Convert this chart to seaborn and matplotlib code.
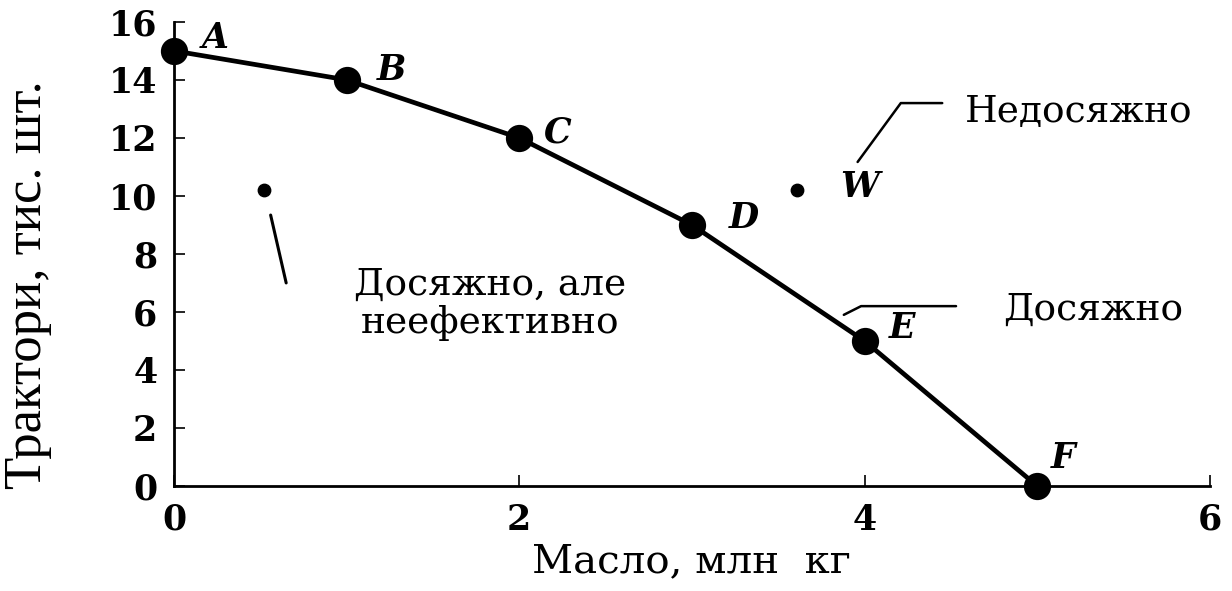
import seaborn as sns
import matplotlib.pyplot as plt
import pandas as pd

# production possibilities: butter vs tractors
butter = [0, 1, 2, 3, 4, 5]
tractors = [15, 14, 12, 9, 5, 0]
point_names = ['A', 'B', 'C', 'D', 'E', 'F']

# inefficient point and unattainable point W
extra_x = [0.52, 3.61]
extra_y = [10.2, 10.2]

x_ticks = [0, 2, 4, 6]
y_ticks = [0, 2, 4, 6, 8, 10, 12, 14, 16]

sns.set_theme(style="ticks")
plt.rcParams['font.family'] = ['DejaVu Serif', 'Liberation Serif']
plt.rcParams['text.color'] = 'black'
plt.rcParams['axes.labelcolor'] = 'black'

df = pd.DataFrame({'x': butter, 'y': tractors, 'name': point_names})

fig = plt.figure(figsize=(12.32, 5.91), dpi=100)
ax = fig.add_axes([0.1412, 0.1777, 0.8408, 0.7853])

sns.lineplot(data=df, x='x', y='y', ax=ax, color='black', linewidth=3.4,
             sort=False, clip_on=False)
sns.scatterplot(data=df, x='x', y='y', ax=ax, color='black', s=330,
                edgecolor='black', clip_on=False, zorder=5)
ax.scatter(extra_x, extra_y, color='black', s=80, zorder=5)

# point labels
label_pos = {'A': (0.24, 15.45), 'B': (1.26, 14.34), 'C': (2.22, 12.2),
             'D': (3.30, 9.24), 'E': (4.22, 5.45), 'F': (5.15, 0.95)}
for _, r in df.iterrows():
    lx, ly = label_pos[r['name']]
    ax.text(lx, ly, r['name'], fontsize=25, fontstyle='italic',
            fontweight='bold', ha='center', va='center')
ax.text(3.97, 10.3, 'W', fontsize=25, fontstyle='italic', fontweight='bold',
        ha='center', va='center')

# leader lines and annotations
ax.plot([0.56, 0.65], [9.34, 7.0], color='black', linewidth=2.2)
ax.text(1.83, 6.28, 'Досяжно, але\nнеефективно', fontsize=27,
        ha='center', va='center', linespacing=1.1)
ax.plot([3.96, 4.21, 4.45], [11.17, 13.2, 13.2], color='black', linewidth=1.8)
ax.text(4.58, 12.9, 'Недосяжно', fontsize=27, ha='left', va='center')
ax.plot([3.88, 3.98, 4.53], [5.9, 6.2, 6.2], color='black', linewidth=1.8)
ax.text(4.80, 6.07, 'Досяжно', fontsize=27, ha='left', va='center')

ax.set_xlim(0, 6)
ax.set_ylim(0, 16)
ax.set_xticks(x_ticks)
ax.set_yticks(y_ticks)
ax.tick_params(direction='in', length=8, width=1.2, labelsize=25, pad=12,
               colors='black')
for lab in ax.get_xticklabels() + ax.get_yticklabels():
    lab.set_fontweight('bold')
ax.set_xlabel('Масло, млн  кг', fontsize=29, labelpad=5)
ax.set_ylabel('Трактори, тис. шт.', fontsize=38, family='Liberation Serif')
ax.yaxis.set_label_coords(-0.118, 0.433)
sns.despine(ax=ax)
for s in ['left', 'bottom']:
    ax.spines[s].set_linewidth(2)
    ax.spines[s].set_color('black')

fig.savefig('out.png', dpi=100)
